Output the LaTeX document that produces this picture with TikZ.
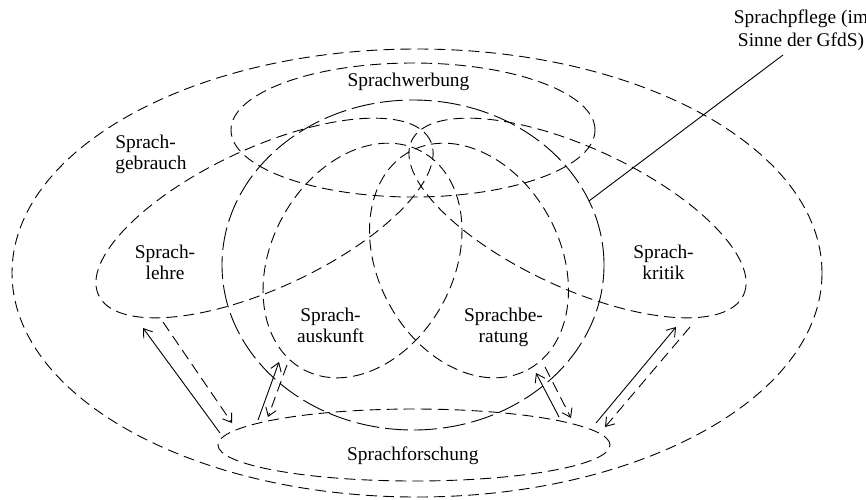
\documentclass[tikz,border=0pt]{standalone}
\usepackage{fontspec}
\setmainfont{Liberation Serif}
\usetikzlibrary{shapes.geometric,arrows.meta}

\begin{document}
\begin{tikzpicture}[x=0.5pt, y=-0.5pt, >={Straight Barb[length=4pt,width=5.5pt]}]
    \tikzstyle{field} = [draw, ellipse, inner sep=0pt, outer sep=0pt,
	line width=0.45pt, dash pattern=on 5.5pt off 3pt]
    \tikzstyle{care} = [field, dash pattern=on 11.5pt off 3pt]
    \tikzstyle{caption} = [align=center, inner sep=0pt,
	font=\fontsize{9.7}{10.5}\selectfont]
    \tikzstyle{link} = [->, line width=0.45pt]
    \tikzstyle{reply} = [link, dash pattern=on 5.5pt off 3pt]
    \useasboundingbox (0,0) rectangle (866,499);

	% areas
	\path
		node[field, minimum width=405pt, minimum height=224pt] (gebrauch) at (417,273) {}
		node[field, minimum width=182pt, minimum height=67pt] (werbung) at (413,130) {}
		node[care, minimum width=191pt, minimum height=165pt] (pflege) at (413,265) {}
		node[field, minimum width=183pt, minimum height=70pt, rotate=24.9] (lehre) at (264.5,218) {}
		node[field, minimum width=183pt, minimum height=70pt, rotate=-24.9] (kritik) at (577.5,218) {}
		node[field, minimum width=124pt, minimum height=91pt, rotate=61.5] (auskunft) at (362.5,260.5) {}
		node[field, minimum width=124pt, minimum height=91pt, rotate=-61.5] (beratung) at (469,260.5) {}
		node[field, minimum width=196pt, minimum height=36pt] (forschung) at (414,445) {}
		;

	% names
	\path
		node[caption] (tw) at (408.5,81.5) {Sprachwerbung}
		node[caption, align=left, anchor=west] (tg) at (115,154) {Sprach-\\gebrauch}
		node[caption] (tl) at (165,262) {Sprach-\\lehre}
		node[caption] (tk) at (663.5,262) {Sprach-\\kritik}
		node[caption] (ta) at (330.5,325.5) {Sprach-\\auskunft}
		node[caption] (tb) at (503.5,327.6) {Sprachbe-\\ratung}
		node[caption] (tf) at (412.8,456) {Sprachforschung}
		node[caption, font=\fontsize{9.7}{11.7}\selectfont] (tp) at (801,30.4)
			{Sprachpflege (im\\Sinne der GfdS)}
		;

	% arrow ends
	\coordinate (l1) at (220,433);  \coordinate (l2) at (143,328);
	\coordinate (l3) at (163,322);  \coordinate (l4) at (232,423);
	\coordinate (a1) at (258,420);  \coordinate (a2) at (279,362);
	\coordinate (a3) at (287,365);  \coordinate (a4) at (268,417);
	\coordinate (b1) at (559,417);  \coordinate (b2) at (536,373);
	\coordinate (b3) at (545,367);  \coordinate (b4) at (571,418);
	\coordinate (k1) at (596,423);  \coordinate (k2) at (676,327);
	\coordinate (k3) at (690,327);  \coordinate (k4) at (605,427);
	\coordinate (p1) at (783,55);

	\path
		(l1) edge[link] (l2)
		(l3) edge[reply] (l4)
		(a1) edge[link] (a2)
		(a3) edge[reply] (a4)
		(b1) edge[link] (b2)
		(b3) edge[reply] (b4)
		(k1) edge[link] (k2)
		(k3) edge[reply] (k4)
		(pflege.20.2) edge[line width=0.45pt] (p1)
		;

\end{tikzpicture}
\end{document}
